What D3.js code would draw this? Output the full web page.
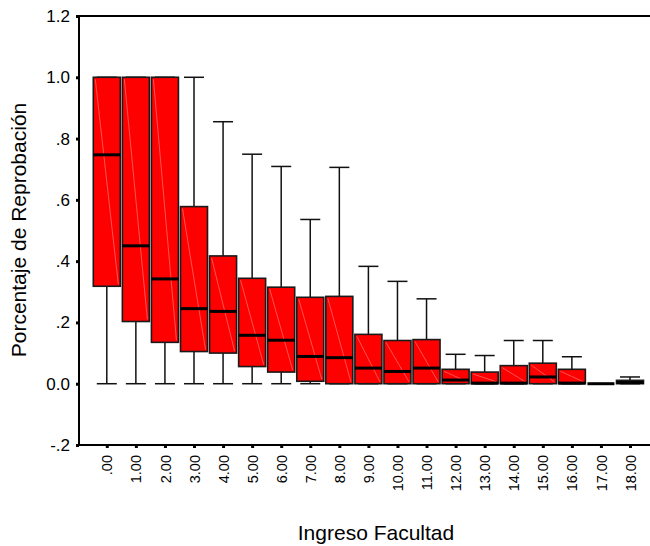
<!DOCTYPE html>
<html>
<head>
<meta charset="utf-8">
<script src="https://cdn.jsdelivr.net/npm/d3@7/dist/d3.min.js"></script>
<style>
  html, body { margin: 0; padding: 0; background: #fff; }
  svg { display: block; }
  text { font-family: "Liberation Sans", Arial, sans-serif; fill: #000; }
</style>
</head>
<body>
<svg id="chart" width="650" height="546"></svg>
<script>
// ---- data ----
const categories = [".00","1.00","2.00","3.00","4.00","5.00","6.00","7.00","8.00","9.00",
  "10.00","11.00","12.00","13.00","14.00","15.00","16.00","17.00","18.00"];
const whiskerLow = [0,0,0,0,0,0,0,0,0,0,0,0,0,0,0,0,0,0,0];
const q1 =        [0.318,0.203,0.135,0.105,0.100,0.056,0.038,0.008,0,0,0,0,0,0,0,0,0,0,0];
const medians =   [0.747,0.450,0.342,0.245,0.236,0.158,0.142,0.089,0.085,0.051,0.040,0.051,0.012,0.002,0.002,0.022,0.002,0,0.004];
const q3 =        [1.0,1.0,1.0,0.578,0.417,0.344,0.315,0.282,0.285,0.161,0.141,0.144,0.047,0.038,0.059,0.067,0.047,0,0.011];
const whiskerHigh=[1.0,1.0,1.0,1.0,0.855,0.749,0.709,0.536,0.706,0.383,0.334,0.277,0.096,0.092,0.141,0.141,0.088,0,0.022];
const yTickValues = [-0.2,0,0.2,0.4,0.6,0.8,1.0,1.2];
const yTickLabels = ["-.2","0.0",".2",".4",".6",".8","1.0","1.2"];
const xTitle = "Ingreso Facultad";
const yTitle = "Porcentaje de Reprobación";

const rows = categories.map((c,i)=>({c, lo:whiskerLow[i], q1:q1[i], med:medians[i], q3:q3[i], hi:whiskerHigh[i]}));

const svg = d3.select("#chart");
const mLeft = 79, mTop = 16, mBottom = 445, mRight = 650;

const x = d3.scalePoint().domain(categories).range([106.8, 630]);
const y = d3.scaleLinear().domain([-0.2, 1.2]).range([mBottom, mTop]);
const boxW = 27, capW = 20;

const g = svg.append("g");

// boxes
const b = g.selectAll("g.box").data(rows).enter().append("g").attr("class","box");
// whiskers
b.append("line")
  .attr("x1", d=>x(d.c)).attr("x2", d=>x(d.c))
  .attr("y1", d=>y(d.q3)).attr("y2", d=>y(d.hi))
  .attr("stroke","#111").attr("stroke-width",1.5);
b.append("line")
  .attr("x1", d=>x(d.c)).attr("x2", d=>x(d.c))
  .attr("y1", d=>y(d.q1)).attr("y2", d=>y(d.lo))
  .attr("stroke","#111").attr("stroke-width",1.5);
b.append("line")
  .attr("x1", d=>x(d.c)-capW/2).attr("x2", d=>x(d.c)+capW/2)
  .attr("y1", d=>y(d.hi)).attr("y2", d=>y(d.hi))
  .attr("stroke","#111").attr("stroke-width",1.5);
b.append("line")
  .attr("x1", d=>x(d.c)-capW/2).attr("x2", d=>x(d.c)+capW/2)
  .attr("y1", d=>y(d.lo)).attr("y2", d=>y(d.lo))
  .attr("stroke","#111").attr("stroke-width",1.5);
// box rect
b.append("rect")
  .attr("x", d=>x(d.c)-boxW/2).attr("width", boxW)
  .attr("y", d=>y(d.q3)).attr("height", d=>Math.max(0, y(d.q1)-y(d.q3)))
  .attr("fill","#ff0000").attr("stroke","#1a1a1a").attr("stroke-width",1.6);
// faint diagonal
b.filter(d=>y(d.q1)-y(d.q3) > 4).append("line")
  .attr("x1", d=>x(d.c)-boxW/2+2).attr("y1", d=>y(d.q3)+2)
  .attr("x2", d=>x(d.c)+boxW/2-2).attr("y2", d=>y(d.q1)-2)
  .attr("stroke","#ff8a8a").attr("stroke-width",0.6);
// median
b.append("line")
  .attr("x1", d=>x(d.c)-boxW/2).attr("x2", d=>x(d.c)+boxW/2)
  .attr("y1", d=>y(d.med)).attr("y2", d=>y(d.med))
  .attr("stroke","#000").attr("stroke-width",3);

// frame lines
g.append("line").attr("x1",mLeft).attr("x2",mRight).attr("y1",mTop).attr("y2",mTop)
  .attr("stroke","#000").attr("stroke-width",2);
g.append("line").attr("x1",mLeft).attr("x2",mRight).attr("y1",mBottom).attr("y2",mBottom)
  .attr("stroke","#000").attr("stroke-width",2);

// y axis
const yAxis = d3.axisLeft(y).tickValues(yTickValues)
  .tickFormat((d,i)=>yTickLabels[i]).tickSize(3).tickPadding(6);
const ya = svg.append("g").attr("transform",`translate(${mLeft},0)`).call(yAxis);
ya.select(".domain").attr("stroke","#000").attr("stroke-width",2).attr("d",`M0,${mTop}V${mBottom}`);
ya.selectAll(".tick line").attr("stroke","#000").attr("stroke-width",3);
ya.selectAll(".tick text").attr("font-size",17).attr("font-family","Liberation Sans, Arial, sans-serif").attr("fill","#000");

// x axis
const xAxis = d3.axisBottom(x).tickSize(3).tickPadding(6);
const xa = svg.append("g").attr("transform",`translate(0,${mBottom})`).call(xAxis);
xa.select(".domain").remove();
xa.selectAll(".tick line").attr("stroke","#000").attr("stroke-width",3).attr("y1",1);
xa.selectAll(".tick text")
  .attr("font-size",14.5).attr("font-family","Liberation Sans, Arial, sans-serif").attr("fill","#000")
  .attr("transform","rotate(-90)")
  .attr("text-anchor","end")
  .attr("x",-10).attr("y",0).attr("dy","0.35em");

// titles
svg.append("text").attr("x", 376).attr("y", 540).attr("text-anchor","middle")
  .attr("font-size",21).text(xTitle);
svg.append("text").attr("transform","translate(26,230) rotate(-90)").attr("text-anchor","middle")
  .attr("font-size",21).text(yTitle);
</script>
</body>
</html>
